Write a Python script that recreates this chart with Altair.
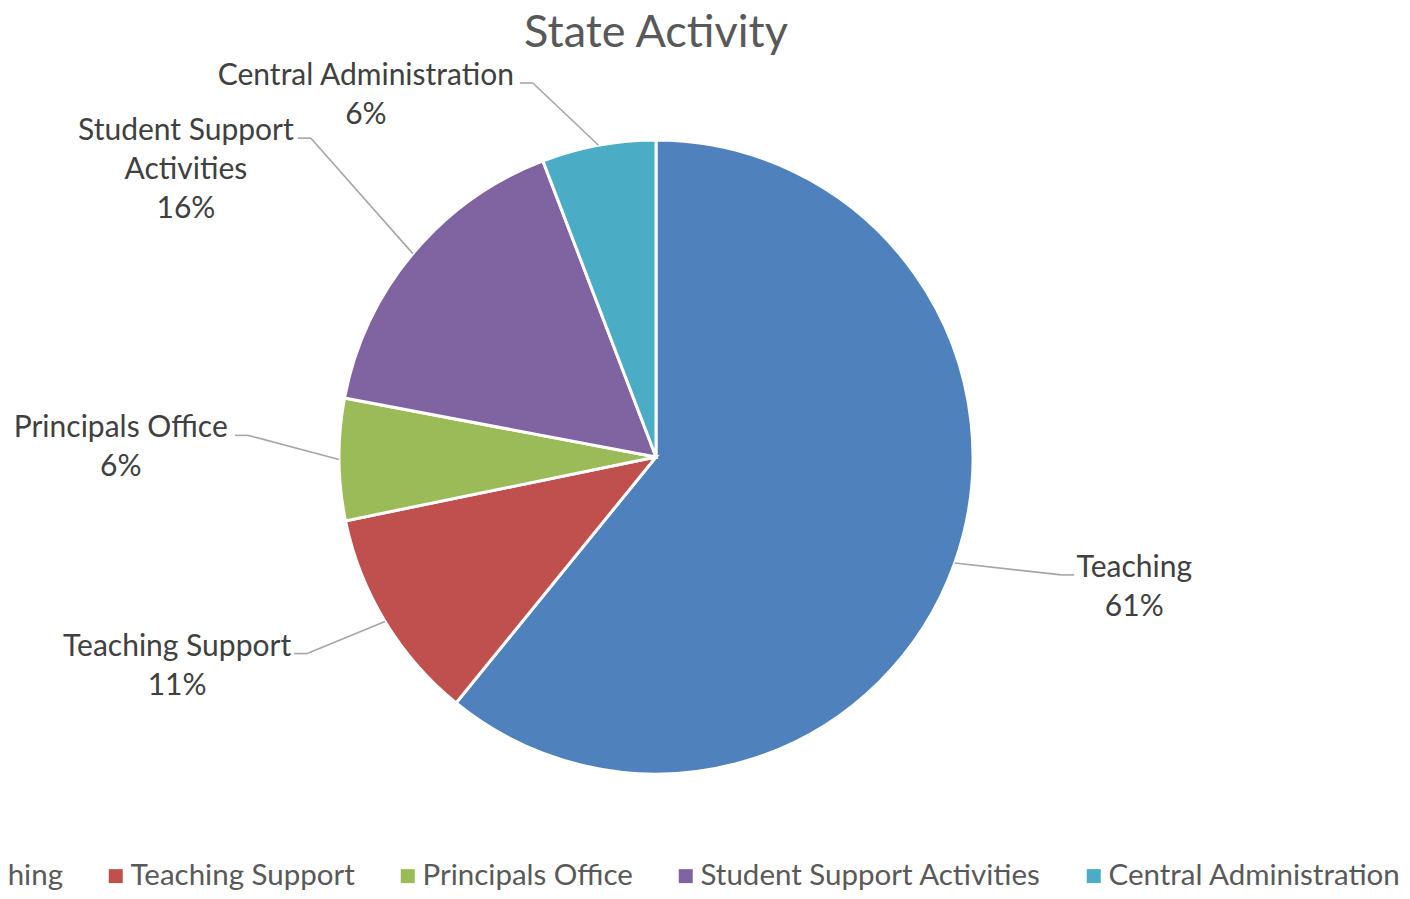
import altair as alt
import pandas as pd

CATEGORIES = ["Teaching", "Teaching Support", "Principals Office",
              "Student Support Activities", "Central Administration"]
VALUES = [60.8, 10.9, 6.2, 16.2, 5.8]
LABEL_TEXT = ["Teaching", "Teaching Support", "Principals Office",
              "Student Support|Activities", "Central Administration"]
COLORS = ["#4F81BD", "#C0504D", "#9BBB59", "#8064A2", "#4BACC6"]
TITLE = "State Activity"

df = pd.DataFrame({
    "category": CATEGORIES,
    "value": VALUES,
    "label": LABEL_TEXT,
    "order": list(range(len(CATEGORIES))),
})

# layout constants (pixels)
CX, CY, R = 648, 433, 317
A_RIGHT, A_LEFT, D = 430, 408, 50
B_TOP, B_BOT, K, YMIN = 458, 427, -25, 59
STUB, GAP = 13, 5
FONT = "Lato"
FS = 30

base = alt.Chart(df)

geo = base.transform_joinaggregate(
    total="sum(value)"
).transform_window(
    cum="sum(value)", sort=[alt.SortField("order")], frame=[None, 0]
).transform_calculate(
    mid="(datum.cum - datum.value/2) / datum.total * 2 * PI",
    pct="format(datum.value / datum.total, '.0%')",
).transform_calculate(
    s="sin(datum.mid)", c="cos(datum.mid)",
).transform_calculate(
    side="datum.s >= 0 ? 1 : -1",
    x0=f"{CX} + {R} * datum.s",
    y0=f"{CY} - {R} * datum.c",
).transform_calculate(
    x1=f"{CX} + (datum.side > 0 ? {A_RIGHT} : {A_LEFT}) * datum.s - {D} * max(datum.c, 0)",
    y1=f"max({CY} + {K} - (datum.c > 0 ? {B_TOP} : {B_BOT}) * datum.c, {YMIN})",
).transform_calculate(
    xs=f"datum.x1 + datum.side * {STUB}",
    n1="indexof(datum.label, '|') >= 0 ? indexof(datum.label, '|') : length(datum.label)",
    txt="datum.label + '|' + datum.pct",
).transform_calculate(
    line1="substring(datum.label, 0, datum.n1)",
).transform_calculate(
    nn="length(replace(datum.line1, regexp('[^ilf]', 'g'), ''))",
).transform_calculate(
    w="14.27 * datum.n1 - 4 * datum.nn",
).transform_calculate(
    tx=f"datum.xs + datum.side * ({GAP} + datum.w / 2)",
    ty="datum.y1 + 2",
)

pie = base.mark_arc(outerRadius=R, stroke="white", strokeWidth=3).encode(
    theta=alt.Theta("value:Q", stack=True),
    color=alt.Color(
        "category:N",
        scale=alt.Scale(domain=CATEGORIES, range=COLORS),
        sort=CATEGORIES,
        legend=alt.Legend(
            title=None, orient="none", direction="horizontal",
            legendX=-88, legendY=837,
            symbolType="square", symbolSize=196, symbolStrokeWidth=0,
            labelFont=FONT, labelFontSize=29.5, labelColor="#595959",
            labelOffset=0, columnPadding=38, labelLimit=800,
        ),
    ),
    order=alt.Order("order:Q"),
)

diag = geo.mark_rule(color="#A6A6A6", strokeWidth=1.6).encode(
    x=alt.X("x0:Q", scale=None, axis=None),
    y=alt.Y("y0:Q", scale=None, axis=None),
    x2="x1:Q", y2="y1:Q",
)
stub = geo.mark_rule(color="#A6A6A6", strokeWidth=1.6).encode(
    x=alt.X("x1:Q", scale=None, axis=None),
    y=alt.Y("y1:Q", scale=None, axis=None),
    x2="xs:Q", y2="y1:Q",
)
labels = geo.mark_text(
    font=FONT, fontSize=FS, color="#404040", align="center",
    baseline="alphabetic", lineBreak="|", lineHeight=39,
).encode(
    x=alt.X("tx:Q", scale=None, axis=None),
    y=alt.Y("ty:Q", scale=None, axis=None),
    text="txt:N",
)

chart = alt.layer(pie, diag, stub, labels).properties(
    width=1296, height=866,
    padding={"left": 0, "top": 16, "right": 98, "bottom": 1},
    autosize=alt.AutoSizeParams(type="none"),
    title=alt.TitleParams(
        TITLE, font=FONT, fontSize=45, fontWeight="normal", color="#595959",
        anchor="middle", frame="group", offset=-32,
    ),
).configure_view(stroke=None)

chart.save("out.html", embed_options={"renderer": "svg", "actions": False})
